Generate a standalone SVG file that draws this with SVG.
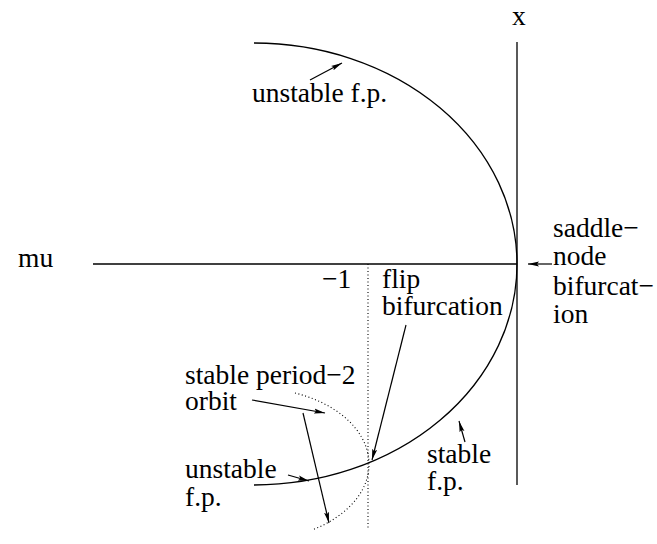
<svg xmlns="http://www.w3.org/2000/svg" width="657" height="544" viewBox="0 0 657 544">
<defs>
<style>
text{font-family:"Liberation Serif","Times New Roman",serif;font-size:27.5px;fill:#000}
.ln{stroke:#000;stroke-width:1.3;fill:none}
.dot{stroke:#000;stroke-width:1.1;fill:none;stroke-dasharray:1 2.5}
.ar{stroke:#000;stroke-width:1.2;fill:none;marker-end:url(#ah)}
</style>
<marker id="ah" viewBox="0 0 11 6" refX="11" refY="3" markerWidth="11" markerHeight="6" markerUnits="userSpaceOnUse" orient="auto">
<path d="M0,0.5 L11,3 L0,5.5 L2,3 Z" fill="#000"/>
</marker>
</defs>
<g id="axes">
<line class="ln" x1="93" y1="264" x2="517" y2="264"/>
<line class="ln" x1="517" y1="42" x2="517" y2="485"/>
<line class="dot" x1="368" y1="264" x2="368" y2="530"/>
</g>
<g id="curves">
<path class="ln" d="M254,43 A263,221 0 0 1 254,485"/>
<path class="dot" d="M295,393 A114,76 0 0 1 312,530"/>
</g>
<g id="labels">
<text x="512" y="25">x</text>
<text x="18" y="267">mu</text>
<text x="322" y="288">−1</text>
<text x="252" y="102">unstable f.p.</text>
<text x="553" y="237">saddle−</text>
<text x="553" y="265">node</text>
<text x="553" y="295">bifurcat−</text>
<text x="553" y="323">ion</text>
<text x="382" y="288">flip</text>
<text x="382" y="315">bifurcation</text>
<text x="185" y="384">stable period−2</text>
<text x="185" y="410">orbit</text>
<text x="185" y="478">unstable</text>
<text x="185" y="506">f.p.</text>
<text x="427" y="463">stable</text>
<text x="427" y="490">f.p.</text>
</g>
<g id="connectors">
<line class="ar" x1="310" y1="80" x2="342" y2="63"/>
<line class="ar" x1="552" y1="264" x2="528" y2="264"/>
<line class="ar" x1="406" y1="325" x2="372" y2="460"/>
<line class="ar" x1="252" y1="400" x2="325" y2="413"/>
<line class="ar" x1="303" y1="413" x2="329" y2="523"/>
<line class="ar" x1="288" y1="475" x2="309" y2="481"/>
<line class="ar" x1="465" y1="442" x2="459" y2="421"/>
</g>
</svg>
